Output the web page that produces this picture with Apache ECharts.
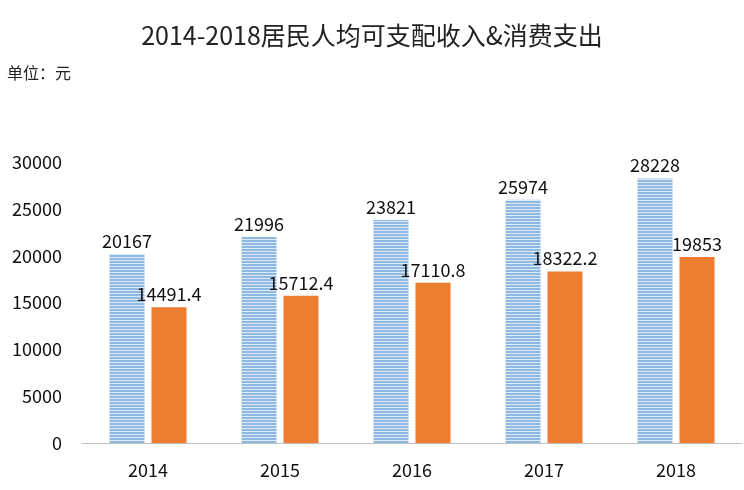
<!DOCTYPE html>
<html>
<head>
<meta charset="utf-8">
<script src="https://cdn.jsdelivr.net/npm/echarts@6/dist/echarts.min.js"></script>
<style>html,body{margin:0;padding:0;background:#fff}#chart{width:744px;height:490px}</style>
</head>
<body>
<div id="chart"></div>
<script>
var years = ['2014', '2015', '2016', '2017', '2018'];
var income = [20167, 21996, 23821, 25974, 28228];
var spending = [14491.4, 15712.4, 17110.8, 18322.2, 19853];
var yTicks = [0, 5000, 10000, 15000, 20000, 25000, 30000];

// striped fill for the income bars
function stripes() {
    var c = document.createElement('canvas');
    c.width = 8; c.height = 3;
    var ctx = c.getContext('2d');
    ctx.fillStyle = '#dce9f6';
    ctx.fillRect(0, 0, 8, 3);
    ctx.fillStyle = '#8fb8e2';
    ctx.fillRect(0, 0, 8, 2);
    return c;
}

var font = '"Noto Sans CJK SC", "Noto Sans", sans-serif';
var chart = echarts.init(document.getElementById('chart'));
chart.setOption({
    animation: false,
    textStyle: { fontFamily: font },
    title: [{
        text: '2014-2018居民人均可支配收入&消费支出',
        left: 'center', top: 18,
        textStyle: { fontSize: 25, fontWeight: 'normal', color: '#222', fontFamily: font }
    }, {
        text: '单位：元',
        left: 2, top: 60,
        textStyle: { fontSize: 16, fontWeight: 'normal', color: '#222', fontFamily: font }
    }],
    grid: { left: 82, right: 2, top: 162, bottom: 47 },
    xAxis: {
        type: 'category',
        data: years,
        axisTick: { show: false },
        axisLine: { lineStyle: { color: '#bfbfbf' } },
        axisLabel: { fontSize: 18, color: '#111', margin: 18 }
    },
    yAxis: {
        type: 'value',
        min: yTicks[0], max: yTicks[yTicks.length - 1], interval: 5000,
        splitLine: { show: false },
        axisLine: { show: false },
        axisLabel: { fontSize: 18, color: '#111', margin: 20, formatter: function (v) { return String(v); } }
    },
    series: [{
        name: '人均可支配收入',
        type: 'bar',
        data: income,
        barWidth: 35,
        barGap: '20%',
        itemStyle: { color: { image: stripes(), repeat: 'repeat' } },
        label: { show: true, position: 'top', fontSize: 18, color: '#111', distance: 4 }
    }, {
        name: '人均消费支出',
        type: 'bar',
        data: spending,
        barWidth: 35,
        itemStyle: { color: '#ed7d31' },
        label: { show: true, position: 'top', fontSize: 18, color: '#111', distance: 4 }
    }]
});
</script>
</body>
</html>
